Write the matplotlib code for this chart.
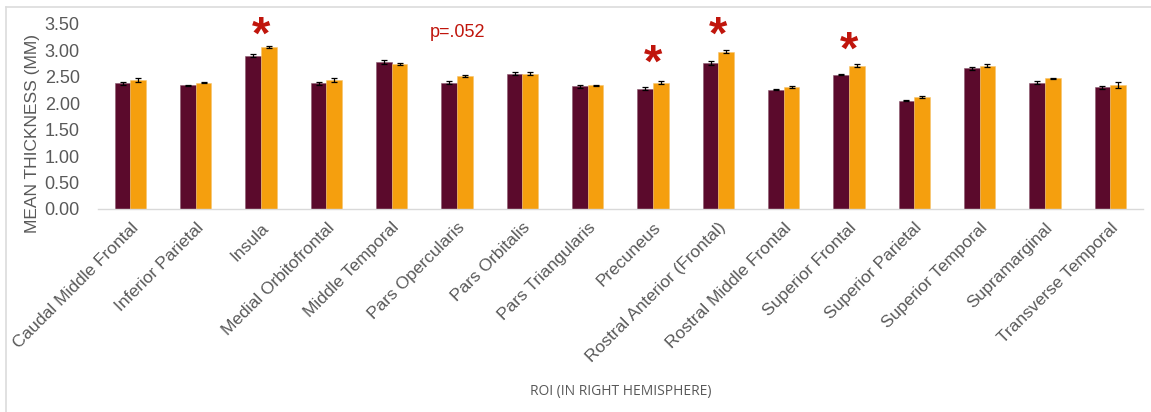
import matplotlib.pyplot as plt
import numpy as np
from matplotlib.lines import Line2D

# Mean cortical thickness per region, right hemisphere
regions = [
    "Caudal Middle Frontal", "Inferior Parietal", "Insula", "Medial Orbitofrontal",
    "Middle Temporal", "Pars Opercularis", "Pars Orbitalis", "Pars Triangularis",
    "Precuneus", "Rostral Anterior (Frontal)", "Rostral Middle Frontal",
    "Superior Frontal", "Superior Parietal", "Superior Temporal",
    "Supramarginal", "Transverse Temporal",
]
group_a = [2.38, 2.34, 2.90, 2.38, 2.78, 2.39, 2.56, 2.32,
           2.27, 2.76, 2.25, 2.54, 2.05, 2.66, 2.39, 2.30]
group_b = [2.44, 2.39, 3.07, 2.44, 2.74, 2.51, 2.56, 2.34,
           2.39, 2.97, 2.30, 2.71, 2.12, 2.71, 2.47, 2.34]
err_a = [0.03, 0.01, 0.03, 0.03, 0.03, 0.03, 0.03, 0.03,
         0.03, 0.03, 0.01, 0.01, 0.01, 0.03, 0.03, 0.03]
err_b = [0.03, 0.01, 0.02, 0.03, 0.02, 0.02, 0.03, 0.01,
         0.03, 0.03, 0.02, 0.03, 0.02, 0.03, 0.01, 0.06]

# significance markers: region -> label height
stars = {"Insula": 3.35, "Precuneus": 2.82,
         "Rostral Anterior (Frontal)": 3.35, "Superior Frontal": 3.07}
trend_region = "Pars Opercularis"
trend_label = "p=.052"
trend_y = 3.33

MAROON = "#5b0a2c"
ORANGE = "#f59f0e"
GREY = "#595959"
RED = "#c0150c"

plt.rcParams['font.family'] = ['Liberation Sans', 'DejaVu Sans']

fig = plt.figure(figsize=(11.51, 4.12), dpi=100)
ax = fig.add_axes([0.085, 0.493, 0.908, 0.449])

x = np.arange(len(regions))
w = 0.24
ax.bar(x - w / 2, group_a, w, color=MAROON, edgecolor="#8a5a6e", linewidth=0.4,
       yerr=err_a, error_kw=dict(ecolor="black", elinewidth=0.9, capsize=2.5, capthick=0.9))
ax.bar(x + w / 2, group_b, w, color=ORANGE, edgecolor="#f7c56e", linewidth=0.4,
       yerr=err_b, error_kw=dict(ecolor="black", elinewidth=0.9, capsize=2.5, capthick=0.9))

for name, yy in stars.items():
    i = regions.index(name)
    ax.text(i, yy, "*", color=RED, fontsize=34, fontweight="bold",
            ha="center", va="center_baseline")
ax.text(regions.index(trend_region), trend_y, trend_label, color=RED,
        fontsize=13, ha="center", va="center")

ax.set_xlim(-0.5, len(regions) - 0.5)
ax.set_ylim(0, 3.5)
ax.set_yticks(np.arange(0, 3.51, 0.5))
ax.set_yticklabels([f"{v:.2f}" for v in np.arange(0, 3.51, 0.5)])
ax.set_xticks(x)
ax.set_xticklabels(regions, rotation=45, ha="right", rotation_mode="anchor")
ax.tick_params(axis="both", length=0, labelcolor=GREY)
ax.tick_params(axis="x", pad=8, labelsize=12.5)
ax.tick_params(axis="y", pad=13, labelsize=13)

for side in ["top", "right", "left"]:
    ax.spines[side].set_visible(False)
ax.spines["bottom"].set_color("#d9d9d9")
ax.spines["bottom"].set_linewidth(1.0)

ax.set_ylabel("MEAN THICKNESS (MM)", fontsize=12.5, color=GREY)
ax.yaxis.set_label_coords(-0.055, 0.41)
fig.text(0.539, 0.05, "ROI (IN RIGHT HEMISPHERE)", fontsize=10, color=GREY,
         ha="center", va="center", family=["Open Sans", "DejaVu Sans"])

# light frame along the top and left edges
fig.add_artist(Line2D([6 / 1151, 1], [1 - 6.5 / 412] * 2, color="#dcdcdc", lw=1.2))
fig.add_artist(Line2D([6 / 1151] * 2, [0, 1 - 6.5 / 412], color="#dcdcdc", lw=1.2))

fig.savefig("out.png", dpi=100, facecolor="white")
